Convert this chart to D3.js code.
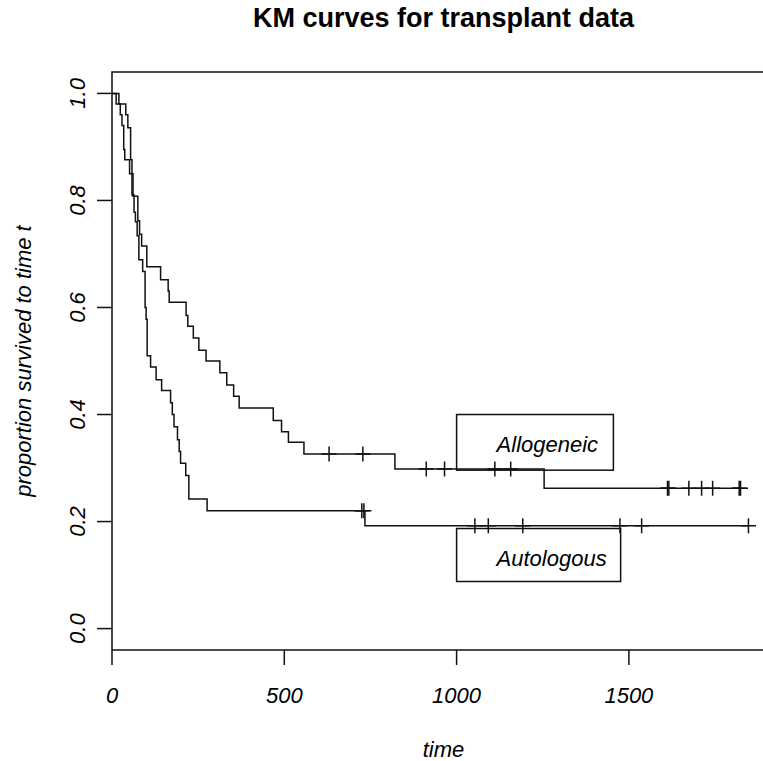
<!DOCTYPE html>
<html lang="en">
<head>
    <meta charset="UTF-8">
    <title>KM curves for transplant data</title>
    <script src="https://d3js.org/d3.v7.min.js"></script>
    <style>
        body { margin: 0; background: #fff; }
        text { font-family: "Liberation Sans", Arial, sans-serif; fill: #000; }
    </style>
</head>
<body>
    <div id="chart"></div>

    <script>
        // Kaplan-Meier steps: time of each drop and survival after it
        var alloTimes = [20, 40, 46, 54, 58, 61, 75, 80, 86, 101, 141, 163, 166, 215, 220, 236, 252, 273,
                         313, 333, 353, 369, 468, 492, 512, 557, 821, 1254];
        var alloSurv = [0.98, 0.96, 0.936, 0.876, 0.85, 0.808, 0.762, 0.737, 0.715, 0.676, 0.652, 0.631,
                        0.610, 0.585, 0.565, 0.543, 0.520, 0.500, 0.478, 0.455, 0.434, 0.412, 0.389,
                        0.368, 0.348, 0.326, 0.298, 0.262];
        var alloCensor = [630, 728, 912, 965, 1111, 1157, 1612, 1616, 1674, 1711, 1743, 1820, 1824];

        var autoTimes = [12, 24, 29, 34, 37, 51, 58, 64, 68, 73, 78, 89, 96, 99, 102, 112, 128, 144,
                         170, 175, 180, 190, 195, 199, 214, 223, 276, 734];
        var autoSurv = [0.98, 0.96, 0.94, 0.895, 0.876, 0.85, 0.81, 0.778, 0.76, 0.734, 0.689, 0.667,
                        0.600, 0.578, 0.510, 0.489, 0.465, 0.445, 0.422, 0.400, 0.377, 0.353, 0.331,
                        0.309, 0.286, 0.242, 0.220, 0.192];
        var autoCensor = [725, 731, 1053, 1092, 1192, 1474, 1537, 1847];

        var xTicks = [0, 500, 1000, 1500];
        var yTicks = [0, 0.2, 0.4, 0.6, 0.8, 1.0];
        var yTickLabels = ["0.0", "0.2", "0.4", "0.6", "0.8", "1.0"];

        var w = 763;
        var h = 761;
        var plotL = 112, plotR = 775, plotT = 72, plotB = 650;

        var svg = d3.select("#chart").append("svg")
            .attr("width", w)
            .attr("height", h);

        var xScale = d3.scaleLinear().domain([0, 1924]).range([plotL, plotR]);
        var yScale = d3.scaleLinear().domain([-0.04, 1.04]).range([plotB, plotT]);

        // step function value at time t
        function survAt(times, surv, t) {
            var s = 1;
            for (var i = 0; i < times.length; i++) {
                if (times[i] <= t) s = surv[i];
            }
            return s;
        }

        function curvePoints(times, surv, censor) {
            var pts = [[0, 1]];
            times.forEach(function(t, i) { pts.push([t, surv[i]]); });
            var end = d3.max(censor.concat(times));
            pts.push([end, surv[surv.length - 1]]);
            return pts;
        }

        var line = d3.line()
            .x(function(d) { return xScale(d[0]); })
            .y(function(d) { return yScale(d[1]); })
            .curve(d3.curveStepAfter);

        var groups = [
            { times: alloTimes, surv: alloSurv, censor: alloCensor },
            { times: autoTimes, surv: autoSurv, censor: autoCensor }
        ];

        groups.forEach(function(g) {
            svg.append("path")
                .attr("d", line(curvePoints(g.times, g.surv, g.censor)))
                .attr("fill", "none")
                .attr("stroke", "#111")
                .attr("stroke-width", 1.5);

            // censor marks drawn as "+"
            svg.selectAll(null)
                .data(g.censor)
                .enter()
                .append("path")
                .attr("d", function(t) {
                    var cx = xScale(t), cy = yScale(survAt(g.times, g.surv, t));
                    return "M" + (cx - 7.5) + "," + cy + "H" + (cx + 7.5) +
                           "M" + cx + "," + (cy - 7.5) + "V" + (cy + 7.5);
                })
                .attr("stroke", "#111")
                .attr("stroke-width", 1.5);
        });

        // plot box
        svg.append("rect")
            .attr("x", plotL)
            .attr("y", plotT)
            .attr("width", plotR - plotL)
            .attr("height", plotB - plotT)
            .attr("fill", "none")
            .attr("stroke", "#111")
            .attr("stroke-width", 1.5);

        // x axis
        svg.selectAll(".xtick")
            .data(xTicks)
            .enter()
            .append("line")
            .attr("x1", function(d) { return xScale(d); })
            .attr("x2", function(d) { return xScale(d); })
            .attr("y1", plotB)
            .attr("y2", plotB + 15)
            .attr("stroke", "#111")
            .attr("stroke-width", 1.5);

        svg.selectAll(".xlab")
            .data(xTicks)
            .enter()
            .append("text")
            .attr("x", function(d) { return xScale(d); })
            .attr("y", 703)
            .attr("text-anchor", "middle")
            .style("font-size", "22px")
            .style("font-style", "italic")
            .text(function(d) { return d; });

        // y axis
        svg.selectAll(".ytick")
            .data(yTicks)
            .enter()
            .append("line")
            .attr("x1", plotL - 15)
            .attr("x2", plotL)
            .attr("y1", function(d) { return yScale(d); })
            .attr("y2", function(d) { return yScale(d); })
            .attr("stroke", "#111")
            .attr("stroke-width", 1.5);

        svg.selectAll(".ylab")
            .data(yTicks)
            .enter()
            .append("text")
            .attr("transform", function(d) { return "translate(85," + yScale(d) + ") rotate(-90)"; })
            .attr("text-anchor", "middle")
            .style("font-size", "22px")
            .style("font-style", "italic")
            .text(function(d, i) { return yTickLabels[i]; });

        // titles
        svg.append("text")
            .attr("x", (plotL + plotR) / 2)
            .attr("y", 27)
            .attr("text-anchor", "middle")
            .style("font-size", "27px")
            .style("font-weight", "bold")
            .text("KM curves for transplant data");

        svg.append("text")
            .attr("x", (plotL + plotR) / 2)
            .attr("y", 757)
            .attr("text-anchor", "middle")
            .style("font-size", "22px")
            .style("font-style", "italic")
            .text("time");

        svg.append("text")
            .attr("transform", "translate(31," + ((plotT + plotB) / 2) + ") rotate(-90)")
            .attr("text-anchor", "middle")
            .style("font-size", "22px")
            .style("font-style", "italic")
            .text("proportion survived to time t");

        // legend boxes
        var legends = [
            { label: "Allogeneic", t0: 1000, t1: 1455, v0: 0.4, v1: 0.296 },
            { label: "Autologous", t0: 1000, t1: 1476, v0: 0.187, v1: 0.088 }
        ];

        legends.forEach(function(l) {
            svg.append("rect")
                .attr("x", xScale(l.t0))
                .attr("y", yScale(l.v0))
                .attr("width", xScale(l.t1) - xScale(l.t0))
                .attr("height", yScale(l.v1) - yScale(l.v0))
                .attr("fill", "none")
                .attr("stroke", "#111")
                .attr("stroke-width", 1.5);

            svg.append("text")
                .attr("x", xScale(l.t0) + 40)
                .attr("y", yScale(l.v0) + 37)
                .style("font-size", "22px")
                .style("font-style", "italic")
                .text(l.label);
        });
    </script>
</body>
</html>
